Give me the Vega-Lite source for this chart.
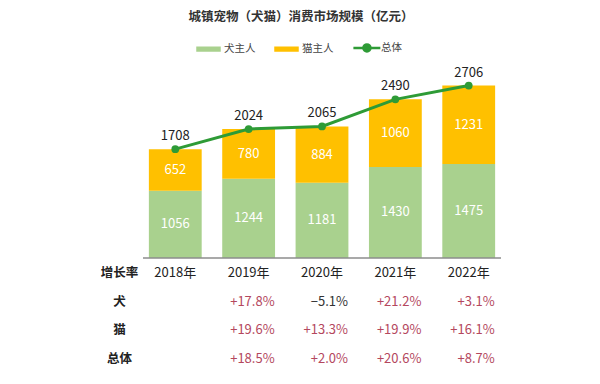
{
  "$schema": "https://vega.github.io/schema/vega-lite/v6.json",
  "padding": {"left": 100, "top": 10, "right": 5, "bottom": 5},
  "background": "white",
  "title": {"text": "城镇宠物（犬猫）消费市场规模（亿元）", "fontSize": 12.5, "fontWeight": "bold", "font": "Noto Sans CJK SC", "color": "#333333", "anchor": "middle", "offset": 12},
  "config": {"view": {"stroke": null}, "font": "Noto Sans CJK SC"},
  "spacing": 0,
  "datasets": {
    "segments": [
      {"year": "2018", "type": "犬主人", "value": 1056},
      {"year": "2018", "type": "猫主人", "value": 652},
      {"year": "2019", "type": "犬主人", "value": 1244},
      {"year": "2019", "type": "猫主人", "value": 780},
      {"year": "2020", "type": "犬主人", "value": 1181},
      {"year": "2020", "type": "猫主人", "value": 884},
      {"year": "2021", "type": "犬主人", "value": 1430},
      {"year": "2021", "type": "猫主人", "value": 1060},
      {"year": "2022", "type": "犬主人", "value": 1475},
      {"year": "2022", "type": "猫主人", "value": 1231}
    ],
    "totals": [
      {"year": "2018", "total": 1708},
      {"year": "2019", "total": 2024},
      {"year": "2020", "total": 2065},
      {"year": "2021", "total": 2490},
      {"year": "2022", "total": 2706}
    ],
    "header": [
      {"year": "2018", "row": "增长率", "label": "2018年"},
      {"year": "2019", "row": "增长率", "label": "2019年"},
      {"year": "2020", "row": "增长率", "label": "2020年"},
      {"year": "2021", "row": "增长率", "label": "2021年"},
      {"year": "2022", "row": "增长率", "label": "2022年"}
    ],
    "growth": [
      {"year": "2019", "row": "犬", "growth": 0.178},
      {"year": "2019", "row": "猫", "growth": 0.196},
      {"year": "2019", "row": "总体", "growth": 0.185},
      {"year": "2020", "row": "犬", "growth": -0.051},
      {"year": "2020", "row": "猫", "growth": 0.133},
      {"year": "2020", "row": "总体", "growth": 0.020},
      {"year": "2021", "row": "犬", "growth": 0.212},
      {"year": "2021", "row": "猫", "growth": 0.199},
      {"year": "2021", "row": "总体", "growth": 0.206},
      {"year": "2022", "row": "犬", "growth": 0.031},
      {"year": "2022", "row": "猫", "growth": 0.161},
      {"year": "2022", "row": "总体", "growth": 0.087}
    ]
  },
  "vconcat": [
    {
      "width": 358,
      "height": 223,
      "encoding": {
        "x": {"field": "year", "type": "nominal", "scale": {"type": "band", "domain": ["2018", "2019", "2020", "2021", "2022"], "paddingInner": 0.28, "paddingOuter": 0.08}, "axis": null}
      },
      "layer": [
        {
          "data": {"name": "segments"},
          "mark": {"type": "bar"},
          "encoding": {
            "y": {"field": "value", "type": "quantitative", "stack": "zero", "scale": {"domain": [0, 3500]}, "axis": null},
            "order": {"field": "type", "type": "nominal", "sort": "ascending"},
            "color": {
              "field": "type", "type": "nominal",
              "scale": {"domain": ["犬主人", "猫主人", "总体"], "range": ["#A9D18E", "#FFC000", "#2E9B36"]},
              "legend": {
                "orient": "none", "legendX": 53, "legendY": 0, "direction": "horizontal", "title": null,
                "labelFont": "Noto Sans CJK SC", "labelFontSize": 10.5, "labelColor": "#444444",
                "symbolSize": 484, "columnPadding": 14, "labelOffset": 3,
                "encode": {
                  "symbols": {
                    "update": {
                      "shape": [
                        {"test": "datum.value === '总体'", "value": "M-1.1,0H1.35M0.45,0A0.32,0.32,0,1,1,-0.19,0A0.32,0.32,0,1,1,0.45,0Z"},
                        {"value": "M-1,-0.12H1V0.12H-1Z"}
                      ],
                      "stroke": [
                        {"test": "datum.value === '总体'", "value": "#2E9B36"},
                        {"value": "transparent"}
                      ],
                      "strokeWidth": {"value": 2.5},
                      "fill": [
                        {"test": "datum.value === '总体'", "value": "#2E9B36"},
                        {"test": "datum.value === '犬主人'", "value": "#A9D18E"},
                        {"value": "#FFC000"}
                      ],
                      "opacity": {"value": 1}
                    }
                  }
                }
              }
            }
          }
        },
        {
          "data": {"name": "segments"},
          "mark": {"type": "text", "color": "white", "fontSize": 13, "baseline": "middle"},
          "encoding": {
            "y": {"field": "value", "type": "quantitative", "stack": "zero", "bandPosition": 0.5},
            "order": {"field": "type", "type": "nominal", "sort": "ascending"},
            "detail": {"field": "type", "type": "nominal"},
            "text": {"field": "value", "type": "quantitative", "format": "d"}
          }
        },
        {
          "data": {"values": [{}]},
          "mark": {"type": "rule", "color": "#8C8C8C", "strokeWidth": 1.5},
          "encoding": {"y": {"datum": 0, "type": "quantitative"}, "x": null}
        },
        {
          "data": {"name": "totals"},
          "mark": {"type": "line", "strokeWidth": 3},
          "encoding": {
            "y": {"field": "total", "type": "quantitative"},
            "color": {"datum": "总体"}
          }
        },
        {
          "data": {"name": "totals"},
          "mark": {"type": "point", "filled": true, "size": 60, "opacity": 1, "shape": "circle"},
          "encoding": {
            "y": {"field": "total", "type": "quantitative"},
            "color": {"datum": "总体"}
          }
        },
        {
          "data": {"name": "totals"},
          "mark": {"type": "text", "fontSize": 13, "color": "#222222", "baseline": "middle", "dy": -13},
          "encoding": {
            "y": {"field": "total", "type": "quantitative"},
            "text": {"field": "total", "type": "quantitative", "format": "d"}
          }
        }
      ]
    },
    {
      "width": 358,
      "height": 114,
      "encoding": {
        "x": {"field": "year", "type": "nominal", "scale": {"type": "band", "domain": ["2018", "2019", "2020", "2021", "2022"], "paddingInner": 0.28, "paddingOuter": 0.08}, "axis": null},
        "y": {
          "field": "row", "type": "nominal",
          "scale": {"type": "band", "domain": ["增长率", "犬", "猫", "总体"], "paddingInner": 0, "paddingOuter": 0},
          "axis": {"title": null, "domain": false, "ticks": false, "tickSize": 0, "labelAlign": "center", "labelPadding": 24, "labelFont": "Noto Sans CJK SC", "labelFontSize": 12.5, "labelFontWeight": "bold", "labelColor": "#222222"}
        }
      },
      "layer": [
        {
          "data": {"name": "header"},
          "mark": {"type": "text", "fontSize": 13, "color": "#222222", "baseline": "middle"},
          "encoding": {"text": {"field": "label", "type": "nominal"}}
        },
        {
          "data": {"name": "growth"},
          "mark": {"type": "text", "fontSize": 13, "baseline": "middle", "align": "right", "dx": 26},
          "encoding": {
            "text": {"field": "growth", "type": "quantitative", "format": "+.1%"},
            "color": {"condition": {"test": "datum.growth < 0", "value": "#333333"}, "value": "#B4475E"}
          }
        }
      ]
    }
  ]
}
